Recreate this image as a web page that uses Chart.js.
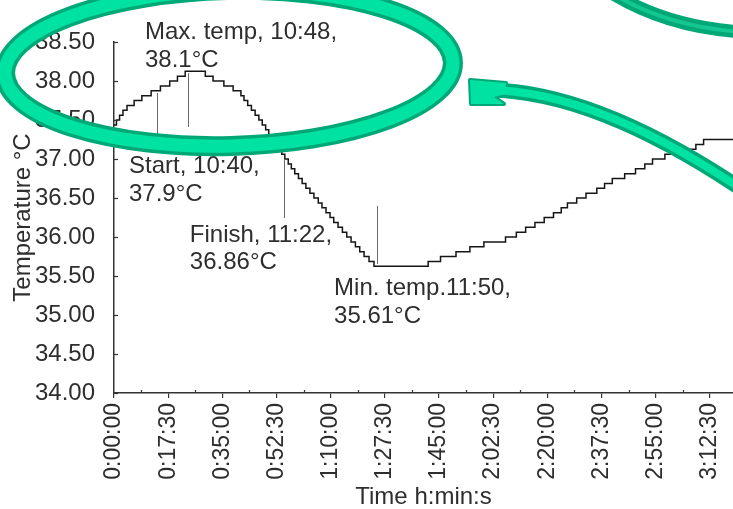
<!DOCTYPE html>
<html><head><meta charset="utf-8">
<script src="https://cdn.jsdelivr.net/npm/chart.js@4/dist/chart.umd.min.js"></script>
<style>html,body{margin:0;padding:0;background:#fff;overflow:hidden}#wrap{width:733px;height:509px;position:relative}</style>
</head><body><div id="wrap"><canvas id="c" width="733" height="509"></canvas></div>
<script>
// ---- data (time in minutes since recording start, temperature in °C; value holds until next step) ----
const stepTimesMin = [
  0, 0.8, 1.8, 2.9, 4.2, 6.5, 9.0, 12.0, 15.0, 18.0, 20.5, 23.0,
  29.5, 32.0, 35.5, 38.5, 41.0, 42.0, 43.2, 44.4, 45.6, 46.8, 47.9, 49.0, 50.0, 51.1, 52.2, 53.2,
  54.2, 55.2, 56.3, 57.3, 58.4, 59.6, 60.8, 62.0, 63.3, 64.6, 66.0, 67.2, 68.5, 69.8, 71.0, 72.4,
  73.8, 75.2, 76.6, 78.0, 79.4, 80.8, 82.4, 84.0,
  101.5, 105.5, 110.5, 115.0, 119.5, 126.5, 130.0, 133.0, 136.0, 139.0, 142.0, 144.5, 146.5,
  149.5, 152.5, 156.0, 158.5, 161.0, 165.0, 168.5, 171.5, 174.0, 178.0, 184.0, 188.0, 190.5, 200
];
const stepTemps = [
  37.4375, 37.5, 37.5625, 37.625, 37.6875, 37.75, 37.8125, 37.875, 37.9375, 38.0, 38.0625, 38.125,
  38.0625, 38.0, 37.9375, 37.875, 37.8125, 37.75, 37.6875, 37.625, 37.5625, 37.5, 37.4375, 37.375, 37.3125, 37.25, 37.1875, 37.125,
  37.0625, 37.0, 36.9375, 36.875, 36.8125, 36.75, 36.6875, 36.625, 36.5625, 36.5, 36.4375, 36.375, 36.3125, 36.25, 36.1875, 36.125,
  36.0625, 36.0, 35.9375, 35.875, 35.8125, 35.75, 35.6875, 35.625,
  35.6875, 35.75, 35.8125, 35.875, 35.9375, 36.0, 36.0625, 36.125, 36.1875, 36.25, 36.3125, 36.375, 36.4375,
  36.5, 36.5625, 36.625, 36.6875, 36.75, 36.8125, 36.875, 36.9375, 37.0, 37.0625, 37.125, 37.1875, 37.25, 37.25
];
const xTickMinutes = [0, 17.5, 35, 52.5, 70, 87.5, 105, 122.5, 140, 157.5, 175, 192.5];
const yTickValues = [34, 34.5, 35, 35.5, 36, 36.5, 37, 37.5, 38, 38.5];

// annotations: text lines, anchor (time, temp) of first baseline, pointer line (time, temp from, temp to)
const noteTexts = [
  ["Max. temp, 10:48,", "38.1°C"],
  ["Start, 10:40,", "37.9°C"],
  ["Finish, 11:22,", "36.86°C"],
  ["Min. temp.11:50,", "35.61°C"]
];
const noteAnchorTime = [10.0, 4.85, 24.5, 71.1];
const noteAnchorTemp = [38.538, 36.82, 35.94, 35.256];
const pointerTime = [23.9, 13.9, 54.9, 84.9];
const pointerTempFrom = [38.1, 37.846, 36.987, 35.654];
const pointerTempTo = [37.41, 37.295, 36.244, 36.397];

const FONT = '"Liberation Sans", Arial, Helvetica, sans-serif';
const TXT = '#2e2e2e';
const FS = 24;

function fmt(m){
  const s = Math.round(m*60);
  const h = Math.floor(s/3600), mm = Math.floor((s%3600)/60), ss = s%60;
  return h + ':' + String(mm).padStart(2,'0') + ':' + String(ss).padStart(2,'0');
}

const decor = {
  id: 'decor',
  afterDatasetsDraw(chart){
    const {ctx, scales:{x, y}, chartArea:ca} = chart;
    ctx.save();
    ctx.strokeStyle = '#333'; ctx.lineWidth = 1.2;
    yTickValues.forEach(v => {
      const py = Math.round(y.getPixelForValue(v)) + 0.5;
      ctx.beginPath(); ctx.moveTo(ca.left, py); ctx.lineTo(ca.left + 4, py); ctx.stroke();
    });
    xTickMinutes.forEach(v => {
      const m = v + 8.75;
      if (m < x.max) {
        const px = Math.round(x.getPixelForValue(m)) + 0.5;
        ctx.beginPath(); ctx.moveTo(px, ca.bottom); ctx.lineTo(px, ca.bottom - 3); ctx.stroke();
      }
    });
    // pointer lines
    ctx.strokeStyle = '#6a6a6a'; ctx.lineWidth = 1;
    pointerTime.forEach((t, i) => {
      const px = Math.round(x.getPixelForValue(t)) + 0.5;
      ctx.beginPath();
      ctx.moveTo(px, y.getPixelForValue(pointerTempFrom[i]));
      ctx.lineTo(px, y.getPixelForValue(pointerTempTo[i]));
      ctx.stroke();
    });
    // labels
    ctx.fillStyle = TXT; ctx.font = FS + 'px ' + FONT;
    ctx.textAlign = 'left'; ctx.textBaseline = 'alphabetic';
    noteTexts.forEach((lines, i) => {
      const px = x.getPixelForValue(noteAnchorTime[i]);
      const py = y.getPixelForValue(noteAnchorTemp[i]);
      lines.forEach((s, k) => ctx.fillText(s, px, py + k*27.5));
    });
    ctx.restore();
  },
  afterDraw(chart){
    const ctx = chart.ctx;
    const dark = '#00a877', bright = '#00e2a2';
    ctx.save();
    // big ellipse
    ctx.beginPath(); ctx.ellipse(229, 68, 224, 78, -0.025, 0, Math.PI*2);
    ctx.strokeStyle = dark; ctx.lineWidth = 20; ctx.stroke();
    ctx.strokeStyle = bright; ctx.lineWidth = 13; ctx.stroke();
    // top-right arc
    ctx.beginPath(); ctx.moveTo(610, -8); ctx.quadraticCurveTo(668, 28, 745, 32);
    ctx.strokeStyle = dark; ctx.lineWidth = 13; ctx.stroke();
    ctx.strokeStyle = '#14c690'; ctx.lineWidth = 4; ctx.stroke();
    // arrow
    const shaft = () => { ctx.beginPath(); ctx.moveTo(750, 195); ctx.quadraticCurveTo(600, 92, 490, 90); };
    const head = () => { ctx.beginPath(); ctx.moveTo(470, 80); ctx.lineTo(471, 104); ctx.lineTo(504, 104);
      ctx.lineTo(494, 97); ctx.lineTo(506, 94); ctx.lineTo(506, 83); ctx.closePath(); };
    ctx.lineJoin = 'round';
    shaft(); ctx.strokeStyle = dark; ctx.lineWidth = 15; ctx.stroke();
    head(); ctx.fillStyle = dark; ctx.fill(); ctx.lineWidth = 4; ctx.stroke();
    shaft(); ctx.strokeStyle = bright; ctx.lineWidth = 8; ctx.stroke();
    head(); ctx.fillStyle = bright; ctx.fill();
    ctx.restore();
  }
};

new Chart(document.getElementById('c'), {
  type: 'line',
  data: {
    datasets: [{
      data: stepTimesMin.map((t, i) => ({x: t, y: stepTemps[i]})),
      stepped: true,
      borderColor: '#151515',
      borderWidth: 1.5,
      pointRadius: 0,
      fill: false
    }]
  },
  options: {
    responsive: false,
    devicePixelRatio: 1,
    animation: false,
    layout: {padding: {top: 42, right: 0, bottom: 0, left: 0}},
    plugins: {legend: {display: false}, tooltip: {enabled: false}},
    scales: {
      x: {
        type: 'linear', min: 0, max: 200,
        afterBuildTicks: s => { s.ticks = xTickMinutes.map(v => ({value: v})); },
        afterFit: s => { s.height = 116; s.paddingRight = 0; },
        border: {display: true, color: '#333', width: 1.5},
        grid: {display: true, drawOnChartArea: false, drawTicks: true, tickLength: 5, color: '#333', lineWidth: 1.2},
        ticks: {autoSkip: false, minRotation: 90, maxRotation: 90, padding: 5, color: TXT,
                font: {family: FONT, size: 23, lineHeight: 0.8}, callback: v => fmt(v)},
        title: {display: true, text: 'Time h:min:s', color: TXT, font: {family: FONT, size: FS}, padding: {top: 0, bottom: -3}}
      },
      y: {
        type: 'linear', min: 34, max: 38.5,
        afterBuildTicks: s => { s.ticks = yTickValues.map(v => ({value: v})); },
        afterFit: s => { s.width = 114; },
        border: {display: true, color: '#333', width: 1.5},
        grid: {display: false},
        ticks: {padding: 11, color: TXT, font: {family: FONT, size: FS}, callback: v => Number(v).toFixed(2)},
        title: {display: true, text: 'Temperature °C', color: TXT, font: {family: FONT, size: FS}, padding: {top: 9, bottom: 0}}
      }
    }
  },
  plugins: [decor]
});
</script>
</body></html>
